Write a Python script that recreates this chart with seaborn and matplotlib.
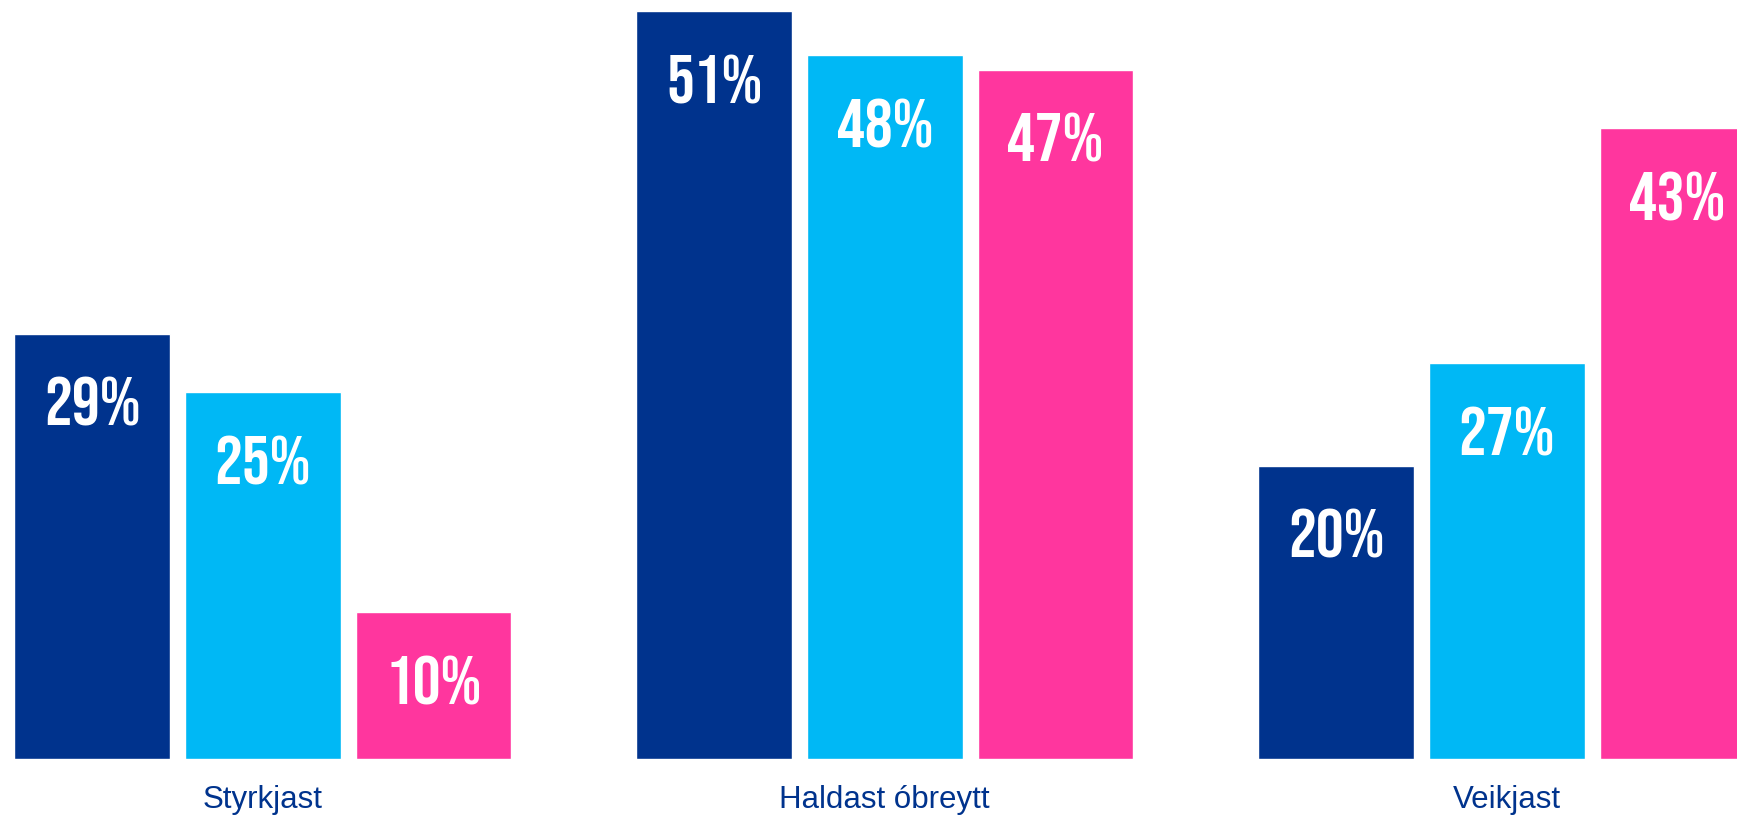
import numpy as np
import pandas as pd
import matplotlib
matplotlib.use("Agg")
import matplotlib.pyplot as plt
import seaborn as sns

# values (percent)
categories = ["Styrkjast", "Haldast óbreytt", "Veikjast"]
series_names = ["Hópur 1", "Hópur 2", "Hópur 3"]
series_1 = [29, 51, 20]
series_2 = [25, 48, 27]
series_3 = [10, 47, 43]

colors = ["#00338D", "#00B8F5", "#FF369E"]
label_blue = "#00338D"

df = pd.DataFrame({
    "category": categories * 3,
    "series": np.repeat(series_names, len(categories)),
    "value": series_1 + series_2 + series_3,
})

sns.set_style("white")
plt.rcParams["font.family"] = ["Liberation Sans", "DejaVu Sans"]

W, H = 1737, 815
fig = plt.figure(figsize=(W / 100, H / 100), dpi=100)
ax = fig.add_axes([0, 56 / H, 1, 759 / H])

sns.barplot(data=df, x="category", y="value", hue="series", order=categories,
            hue_order=series_names, palette=colors, width=0.823, gap=0.0875,
            saturation=1, legend=False, errorbar=None, ax=ax)

ax.set_xlim(-262.8 / 622, (W - 262.8) / 622)
ax.set_ylim(0, 759 / (748 / 51))

# value labels inside the top of each bar (condensed font)
for bar in ax.patches:
    h = bar.get_height()
    if h <= 0:
        continue
    ax.annotate(f"{h:.0f}%", (bar.get_x() + bar.get_width() / 2, h),
                xytext=(0, -31.5), textcoords="offset points",
                ha="center", va="top", color="white", fontsize=50,
                fontweight="bold",
                family=["Bebas Neue", "Barlow Condensed", "DejaVu Sans"])

ax.set_xlabel("")
ax.set_ylabel("")
ax.set_yticks([])
ax.tick_params(axis="x", length=0, pad=19, labelsize=22.5, labelcolor=label_blue)
sns.despine(ax=ax, left=True, bottom=True)

fig.savefig("out.png", dpi=100)
